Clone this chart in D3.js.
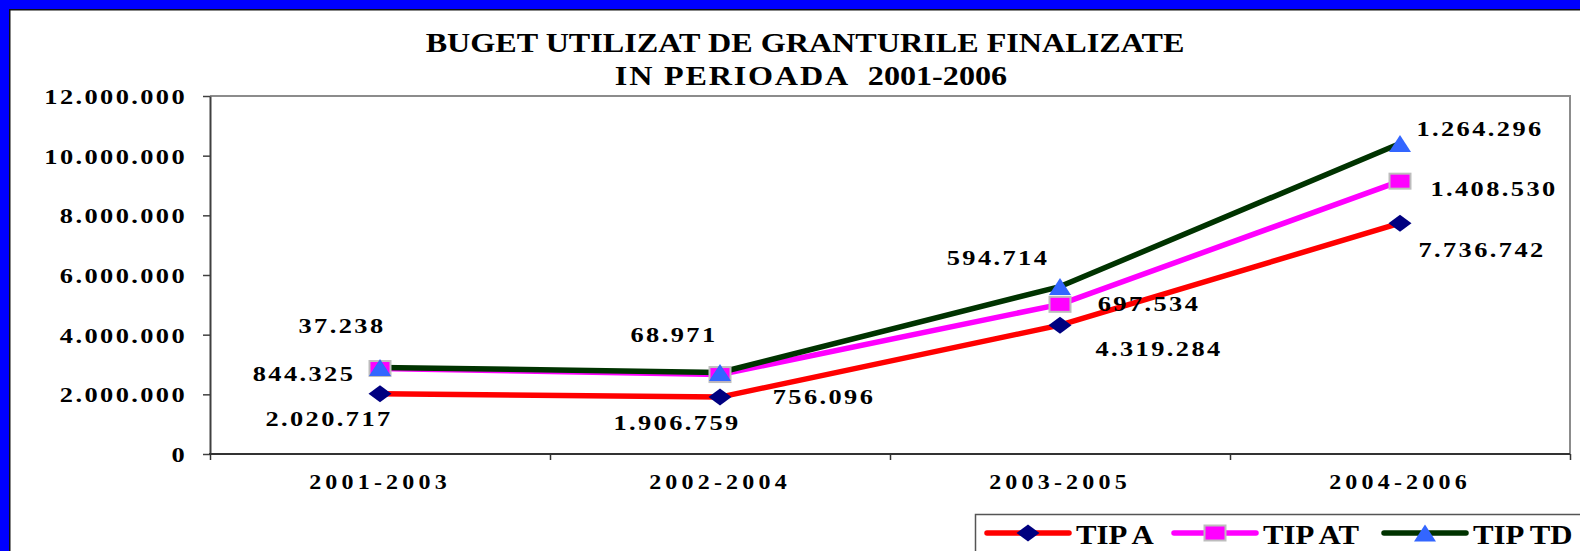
<!DOCTYPE html>
<html>
<head>
<meta charset="utf-8">
<script src="https://cdn.jsdelivr.net/npm/d3@7"></script>
<style>
  html, body { margin: 0; padding: 0; background: #ffffff; overflow: hidden; }
  svg { display: block; background: #ffffff; }
  text { font-family: "Liberation Serif", "Times New Roman", serif; font-weight: bold; fill: #000; }
</style>
</head>
<body>
<svg id="chart" width="1580" height="551" viewBox="0 0 1580 551"></svg>
<script>
// ---- data ----
const categories = ["2001-2003", "2002-2004", "2003-2005", "2004-2006"];
const seriesNames = ["TIP A", "TIP AT", "TIP TD"];
const tipA  = [2020717, 1906759, 4319284, 7736742];
const tipAT = [844325, 756096, 697534, 1408530];
const tipTD = [37238, 68971, 594714, 1264296];
const yTicks = [0, 2000000, 4000000, 6000000, 8000000, 10000000, 12000000];
const titleLine1 = "BUGET UTILIZAT DE GRANTURILE FINALIZATE";
const titleLine2 = ["IN PERIOADA", "2001-2006"];

// ---- layout ----
const W = 1580, H = 551;
const plot = { left: 210, right: 1570, top: 96, bottom: 454 };
const SX = 1.2; // horizontal stretch of the lettering
// value label offsets (dx, dy) from each marker, per series
const labelOffsets = [
  [[-51, 32], [-43, 33], [99, 31], [82, 34]],
  [[-76, 12], [104, 29], [89, 7], [94, 15]],
  [[-38, -34], [-46, -31], [-62, -22], [80, -7]]
];
const seriesStyle = [
  { line: "#ff0000", marker: "diamond" },
  { line: "#ff00ff", marker: "square" },
  { line: "#003300", marker: "triangle" }
];

const ro = d3.formatLocale({ decimal: ",", thousands: ".", grouping: [3], currency: ["", ""] });
const fmt = ro.format(",d");

const svg = d3.select("#chart");

// frame: blue band along the top and left edges, white chart area
svg.append("rect").attr("width", W).attr("height", H).attr("fill", "#ffffff");
svg.append("rect").attr("x", 0).attr("y", 0).attr("width", W).attr("height", 9).attr("fill", "#0000ff");
svg.append("rect").attr("x", 0).attr("y", 0).attr("width", 9).attr("height", H).attr("fill", "#0000ff");
svg.append("path").attr("d", `M9.75,${H}V9.75H${W}`)
  .attr("fill", "none").attr("stroke", "#111111").attr("stroke-width", 1.5);

function stretchedText(parent, x, y, str, size, anchor, spacing, sx) {
  return parent.append("text")
    .attr("transform", `translate(${x},${y}) scale(${sx || SX},1)`)
    .attr("text-anchor", anchor)
    .style("font-size", size + "px")
    .style("letter-spacing", (spacing || 0) + "px")
    .style("white-space", "pre")
    .text(str);
}

// title
stretchedText(svg, 805, 52, titleLine1, 26.8, "middle", 0);
const t2 = svg.append("text")
  .attr("transform", `translate(811,85) scale(${SX},1)`)
  .attr("text-anchor", "middle")
  .style("font-size", "26.8px")
  .style("white-space", "pre");
t2.append("tspan").style("letter-spacing", "1.5px").text(titleLine2[0] + "  ");
t2.append("tspan").style("letter-spacing", "0px").text(titleLine2[1]);

// scales
const x = d3.scaleBand().domain(categories).range([plot.left, plot.right]);
const y = d3.scaleLinear().domain([0, 12000000]).range([plot.bottom, plot.top]);
const cx = c => x(c) + x.bandwidth() / 2;

// plot border (top and right)
svg.append("path")
  .attr("d", `M${plot.left},${plot.top}H${plot.right}V${plot.bottom}`)
  .attr("fill", "none").attr("stroke", "#8c8c8c").attr("stroke-width", 2);

// y axis
const yAxis = svg.append("g").attr("transform", `translate(${plot.left},0)`)
  .call(d3.axisLeft(y).tickValues(yTicks).tickSize(7).tickSizeOuter(0).tickFormat(fmt));
yAxis.select(".domain").attr("stroke", "#404040").attr("stroke-width", 2);
yAxis.selectAll(".tick line").attr("stroke", "#404040").attr("stroke-width", 1.5);
yAxis.selectAll(".tick text")
  .attr("x", null).attr("dy", null)
  .attr("transform", `translate(-23,7.5) scale(${SX},1)`)
  .attr("text-anchor", "end")
  .style("font-size", "22px").style("letter-spacing", "2px");

// x axis: labels at band centres, ticks on band boundaries
const xAxis = svg.append("g").attr("transform", `translate(0,${plot.bottom})`)
  .call(d3.axisBottom(x).tickSize(0).tickSizeOuter(0));
xAxis.select(".domain").attr("stroke", "#333333").attr("stroke-width", 2)
  .attr("d", `M${plot.left - 1},0H${plot.right}`);
xAxis.selectAll(".tick text")
  .attr("y", null).attr("dy", null)
  .attr("transform", `translate(0,35) scale(${SX},1)`)
  .style("font-size", "20px").style("letter-spacing", "3.5px");
const bounds = d3.scaleLinear().domain([0, categories.length]).range([plot.left, plot.right]);
const xTicks = svg.append("g").attr("transform", `translate(0,${plot.bottom})`)
  .call(d3.axisBottom(bounds).ticks(categories.length).tickSize(6).tickSizeOuter(0).tickFormat(""));
xTicks.select(".domain").remove();
xTicks.selectAll(".tick line").attr("stroke", "#333333").attr("stroke-width", 1.5);

// stacked series
const rows = categories.map((c, i) => ({ cat: c, "TIP A": tipA[i], "TIP AT": tipAT[i], "TIP TD": tipTD[i] }));
const stacked = d3.stack().keys(seriesNames)(rows);

function drawMarker(g, type, px, py) {
  if (type === "diamond") {
    g.append("path").attr("d", `M${px - 11.5},${py}L${px},${py - 8.5}L${px + 11.5},${py}L${px},${py + 8.5}Z`)
      .attr("fill", "#000080");
  } else if (type === "square") {
    g.append("rect").attr("x", px - 10.5).attr("y", py - 7.5).attr("width", 21).attr("height", 15)
      .attr("fill", "#ff00ff").attr("stroke", "#bdbdbd").attr("stroke-width", 2);
  } else {
    g.append("path").attr("d", `M${px},${py - 8.5}L${px + 11},${py + 8.5}L${px - 11},${py + 8.5}Z`)
      .attr("fill", "#3366ff");
  }
}

const line = d3.line().x(d => cx(d.data.cat)).y(d => y(d[1]));
const seriesG = svg.append("g");
stacked.forEach((s, si) => {
  seriesG.append("path").datum(s).attr("d", line)
    .attr("fill", "none").attr("stroke", seriesStyle[si].line)
    .attr("stroke-width", 5.5).attr("stroke-linejoin", "round");
});
stacked.forEach((s, si) => {
  s.forEach(d => drawMarker(seriesG, seriesStyle[si].marker, cx(d.data.cat), y(d[1])));
});

// value labels: each series' own amount
const labelG = svg.append("g");
stacked.forEach((s, si) => {
  s.forEach((d, i) => {
    const [dx, dy] = labelOffsets[si][i];
    stretchedText(labelG, cx(d.data.cat) + dx, y(d[1]) + dy, fmt(d[1] - d[0]), 22, "middle", 2);
  });
});

// legend
const legend = svg.append("g");
legend.append("rect").attr("x", 975.5).attr("y", 514.5).attr("width", 700).attr("height", 100)
  .attr("fill", "#ffffff").attr("stroke", "#555555").attr("stroke-width", 1.5);
const legendX = [987, 1174, 1384];
const legendY = 533;
seriesNames.forEach((name, si) => {
  const lx = legendX[si];
  legend.append("line").attr("x1", lx).attr("x2", lx + 82).attr("y1", legendY).attr("y2", legendY)
    .attr("stroke", seriesStyle[si].line).attr("stroke-width", 5.5).attr("stroke-linecap", "round");
  drawMarker(legend, seriesStyle[si].marker, lx + 41, legendY);
  stretchedText(legend, lx + 89, legendY + 11, name, 28, "start", 0, 1.1);
});
</script>
</body>
</html>
